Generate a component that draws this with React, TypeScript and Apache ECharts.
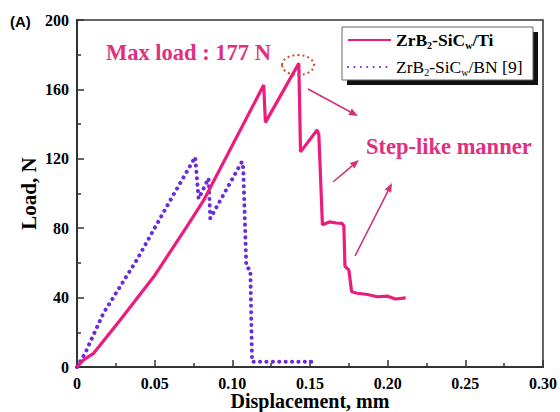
import React, { useEffect, useRef } from "react";
import * as echarts from "echarts";

// ---- data ----
const tiX = [0, 0.004, 0.0107, 0.0277, 0.0494, 0.0708, 0.0815, 0.1202, 0.1213, 0.1428, 0.1439, 0.1546, 0.1557, 0.158, 0.1625, 0.167, 0.1705, 0.1718, 0.1725, 0.175, 0.1768, 0.1804, 0.187, 0.1934, 0.2, 0.205, 0.2116];
const tiY = [0, 4, 7.9, 27, 52, 81, 96, 162.5, 141, 175, 124, 136.6, 133.7, 82, 83.6, 83, 82.8, 81.3, 58, 56, 43.4, 42.5, 41.8, 40.5, 40.8, 39.2, 39.8];

const bnX = [0, 0.0052, 0.017, 0.0385, 0.06, 0.0761, 0.0783, 0.0847, 0.0858, 0.1062, 0.107, 0.109, 0.1116, 0.1127, 0.1508];
const bnY = [0, 7.9, 31, 61.7, 96, 121, 97, 108.8, 85.7, 118.3, 115, 57.8, 56, 3, 3];

const xTicks = { min: 0, max: 0.3, interval: 0.05 };
const yTicks = { min: 0, max: 200, interval: 40 };

const SERIES_TI = "ZrB2-SiCw/Ti";
const SERIES_BN = "ZrB2-SiCw/BN [9]";

const PINK = "#ec1c7f";
const PINK_TEXT = "#e0307f";
const PURPLE = "#6a2bd9";
const SERIF = "'Liberation Serif', 'Times New Roman', serif";

function arrow(x1: number, y1: number, x2: number, y2: number) {
  const a = Math.atan2(y2 - y1, x2 - x1);
  const L = 9;
  const W = 3.6;
  const bx = x2 - L * Math.cos(a);
  const by = y2 - L * Math.sin(a);
  return {
    type: "group",
    children: [
      {
        type: "line",
        shape: { x1, y1, x2: bx, y2: by },
        style: { stroke: "#d3327a", lineWidth: 1.6 },
      },
      {
        type: "polygon",
        shape: {
          points: [
            [x2, y2],
            [bx - W * Math.sin(a), by + W * Math.cos(a)],
            [bx + W * Math.sin(a), by - W * Math.cos(a)],
          ],
        },
        style: { fill: "#d3327a" },
      },
    ],
  };
}

const LEGEND_BOX = { x: 342, y: 27, w: 191, h: 53, off: 5 };

export default function App() {
  const ref = useRef<HTMLDivElement>(null);

  useEffect(() => {
    if (!ref.current) return;
    const chart = echarts.init(ref.current, undefined, { renderer: "svg" });

    const tickLabel = {
      color: "#000",
      fontFamily: SERIF,
      fontWeight: "bold" as const,
      fontSize: 16,
    };

    const B = LEGEND_BOX;

    chart.setOption({
      animation: false,
      backgroundColor: "transparent",
      grid: {
        left: 77,
        right: 17,
        top: 20,
        bottom: 45,
        show: true,
        borderColor: "#333",
        borderWidth: 1.5,
        containLabel: false,
        outerBoundsMode: "none",
      },
      legend: {
        left: B.x,
        top: B.y,
        z: 20,
        orient: "vertical",
        data: [SERIES_TI, SERIES_BN],
        backgroundColor: "transparent",
        borderWidth: 0,
        padding: [3, 9, 1, 5],
        itemGap: 7,
        itemWidth: 43,
        itemHeight: 14,
        itemTextGap: 5,
        itemStyle: { opacity: 0 },
        formatter: (name: string) =>
          name === SERIES_TI
            ? "{b|ZrB}{bs|2}{b|-SiC}{bs|w}{b|/Ti}"
            : "{n|ZrB}{ns|2}{n|-SiC}{ns|w}{n|/BN [9]}",
        textStyle: {
          color: "#000",
          fontFamily: SERIF,
          lineHeight: 20,
          rich: {
            b: { fontFamily: SERIF, fontWeight: "bold", fontSize: 17.5, lineHeight: 20, color: "#000" },
            bs: { fontFamily: SERIF, fontWeight: "bold", fontSize: 10, lineHeight: 10, verticalAlign: "bottom", color: "#000" },
            n: { fontFamily: SERIF, fontSize: 17.5, lineHeight: 20, color: "#000" },
            ns: { fontFamily: SERIF, fontSize: 10, lineHeight: 10, verticalAlign: "bottom", color: "#000" },
          },
        },
      },
      xAxis: {
        type: "value",
        min: xTicks.min,
        max: xTicks.max,
        interval: xTicks.interval,
        name: "Displacement, mm",
        nameLocation: "middle",
        nameGap: 24,
        nameMoveOverlap: false,
        nameTextStyle: { color: "#000", fontFamily: SERIF, fontWeight: "bold", fontSize: 20 },
        axisLine: { show: true, lineStyle: { color: "#333", width: 2 } },
        axisTick: { show: true, inside: true, length: 7, lineStyle: { color: "#333", width: 1.5 } },
        minorTick: { show: true, splitNumber: 2, length: 4, lineStyle: { color: "#333", width: 1.5 } },
        splitLine: { show: false },
        axisLabel: {
          ...tickLabel,
          margin: 8,
          formatter: (v: number) => (v === 0 ? "0" : v.toFixed(2)),
        },
      },
      yAxis: {
        type: "value",
        min: yTicks.min,
        max: yTicks.max,
        interval: yTicks.interval,
        name: "Load, N",
        nameLocation: "middle",
        nameGap: 38,
        nameMoveOverlap: false,
        nameTextStyle: { color: "#000", fontFamily: SERIF, fontWeight: "bold", fontSize: 21 },
        axisLine: { show: true, lineStyle: { color: "#333", width: 2 } },
        axisTick: { show: true, inside: true, length: 7, lineStyle: { color: "#333", width: 1.5 } },
        minorTick: { show: true, splitNumber: 2, length: 4, lineStyle: { color: "#333", width: 1.5 } },
        splitLine: { show: false },
        axisLabel: { ...tickLabel, margin: 8 },
      },
      series: [
        {
          name: SERIES_BN,
          type: "line",
          data: bnX.map((x, i) => [x, bnY[i]]),
          symbol: "none",
          showSymbol: false,
          color: PURPLE,
          lineStyle: { color: PURPLE, width: 4, type: [0.1, 6.3], cap: "round" },
          z: 2,
        },
        {
          name: SERIES_TI,
          type: "line",
          data: tiX.map((x, i) => [x, tiY[i]]),
          symbol: "none",
          showSymbol: false,
          color: PINK,
          lineStyle: { color: PINK, width: 3.2 },
          z: 3,
        },
      ],
      graphic: [
        {
          type: "text",
          x: 10,
          y: 21,
          style: {
            text: "(A)",
            fill: "#000",
            fontFamily: "'Liberation Sans', Arial, sans-serif",
            fontWeight: "bold",
            fontSize: 15,
            verticalAlign: "middle",
          },
        },
        {
          type: "text",
          x: 106,
          y: 52,
          style: {
            text: "Max load : 177 N",
            fill: PINK_TEXT,
            fontFamily: SERIF,
            fontWeight: "bold",
            fontSize: 22.5,
            verticalAlign: "middle",
          },
        },
        {
          type: "text",
          x: 366,
          y: 146,
          style: {
            text: "Step-like manner",
            fill: PINK_TEXT,
            fontFamily: SERIF,
            fontWeight: "bold",
            fontSize: 22.5,
            verticalAlign: "middle",
          },
        },
        {
          type: "ellipse",
          shape: { cx: 298, cy: 65, rx: 16, ry: 10 },
          style: { fill: "none", stroke: "#d4461e", lineWidth: 2, lineDash: [2, 3] },
          z: 5,
        },
        arrow(308, 89, 358, 116),
        arrow(333, 182, 359, 160),
        arrow(355, 256, 392, 183),
        {
          type: "polygon",
          z: 6,
          shape: {
            points: [
              [B.x, B.y],
              [B.x + B.w, B.y],
              [B.x + B.w, B.y + B.h],
              [B.x, B.y + B.h],
            ],
          },
          style: { fill: "#ffffff", stroke: "#666666", lineWidth: 1 },
        },
      ],
    });

    return () => chart.dispose();
  }, []);

  const B = LEGEND_BOX;
  return (
    <div
      style={{
        position: "absolute",
        left: 0,
        top: 0,
        width: 560,
        height: 412,
        background: "#fff",
        overflow: "hidden",
      }}
    >
      <div
        style={{
          position: "absolute",
          left: B.x + B.off,
          top: B.y + B.off,
          width: B.w,
          height: B.h,
          background: "#111",
        }}
      />
      <div
        ref={ref}
        style={{ position: "absolute", left: 0, top: 0, width: 560, height: 412 }}
      />
    </div>
  );
}
